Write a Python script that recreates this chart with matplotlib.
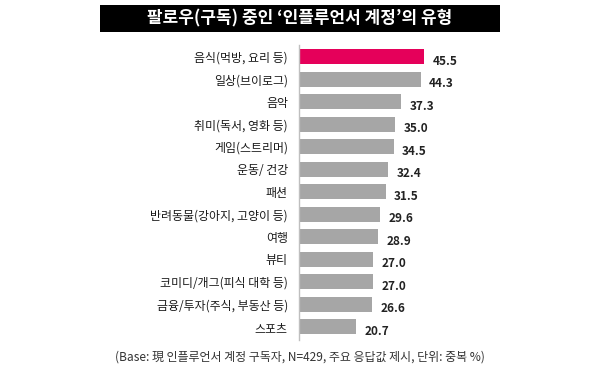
import matplotlib
matplotlib.use("Agg")
import matplotlib.pyplot as plt
from matplotlib.patches import Rectangle

plt.rcParams['font.family'] = ['Noto Sans CJK KR', 'DejaVu Sans']

categories = ['음식(먹방, 요리 등)', '일상(브이로그)', '음악', '취미(독서, 영화 등)',
              '게임(스트리머)', '운동/ 건강', '패션', '반려동물(강아지, 고양이 등)',
              '여행', '뷰티', '코미디/개그(피식 대학 등)', '금융/투자(주식, 부동산 등)', '스포츠']
values = [45.5, 44.3, 37.3, 35.0, 34.5, 32.4, 31.5, 29.6, 28.9, 27.0, 27.0, 26.6, 20.7]
title = "팔로우(구독) 중인 ‘인플루언서 계정’의 유형"
note = "(Base: 現 인플루언서 계정 구독자, N=429, 주요 응답값 제시, 단위: 중복 %)"

gray = '#a6a6a6'
pink = '#e5005a'

fig = plt.figure(figsize=(6, 3.78), dpi=100)

# title banner
fig.patches.append(Rectangle((100/600, 1-32/378), 400/600, 27/378, transform=fig.transFigure,
                             facecolor='black', edgecolor='none'))
fig.text(0.5, 1-18.5/378, title, color='white', fontsize=12.2, fontweight='bold',
         ha='center', va='center')

ax = fig.add_axes([299/600, 1-340/378, 200/600, 295/378])
y = list(range(len(categories)))
colors = [pink] + [gray]*(len(categories)-1)
ax.barh(y, values, height=0.667, color=colors)
ax.set_xlim(0, 200/2.747)
ax.set_ylim(12.578, -0.533)

ax.set_yticks(y)
ax.set_yticklabels(categories, fontsize=8.6, color='#1a1a1a')
ax.tick_params(axis='y', length=0, pad=8)
ax.set_xticks([])
for s in ['top', 'right', 'bottom']:
    ax.spines[s].set_visible(False)
ax.spines['left'].set_color('#bfbfbf')
ax.spines['left'].set_linewidth(1)

for yi, v in zip(y, values):
    ax.annotate(f'{v:.1f}', (v, yi), xytext=(6, -3), textcoords='offset points',
                fontsize=8.5, fontweight='bold', color='#222222', ha='left', va='center')

fig.text(0.5, 1-357/378, note, fontsize=8.6, color='#333333', ha='center', va='center')

fig.savefig('out.png', dpi=100)
